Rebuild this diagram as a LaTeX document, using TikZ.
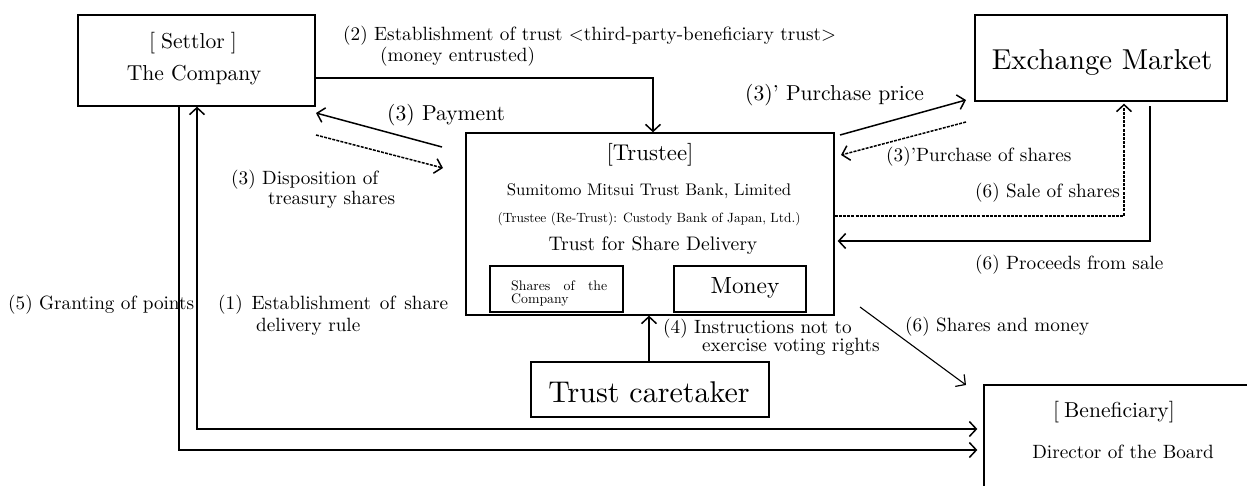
\documentclass[tikz,border=0pt]{standalone}
\usepackage{fontspec}
\setmainfont{lmroman10-regular}[Extension=.otf]
\usetikzlibrary{arrows.meta}
\newcommand\fsz[1]{\fontsize{#1pt}{#1pt}\selectfont}
\begin{document}
\begin{tikzpicture}[x=1pt,y=-1pt,
  box/.style={draw, line width=1.3pt, inner sep=0pt},
  txt/.style={inner sep=0pt, font=\fsz{19.2}},
  con/.style={line width=1.5pt},
  arr/.style={con, -{Straight Barb[length=7pt,width=15pt,line width=1.5pt]}},
  dsh/.style={dash pattern=on 3pt off 1.2pt}]
\useasboundingbox (0,0) rectangle (1247,485);
% boxes
\node[box, minimum width=237pt, minimum height=91pt] (settlor) at (196.5,60.5) {};
\node[box, minimum width=368pt, minimum height=182pt] (trustee) at (650,224) {};
\node[box, minimum width=252pt, minimum height=86pt] (market) at (1101,58) {};
\node[box, minimum width=238pt, minimum height=55pt] (caretaker) at (650,389.5) {};
\node[box, minimum width=133pt, minimum height=46pt] (sharesbox) at (556.5,289) {};
\node[box, minimum width=132pt, minimum height=46pt] (moneybox) at (740,289) {};
\begin{scope}
\clip (0,0) rectangle (1247,485);
\node[box, minimum width=316pt, minimum height=155pt] (benef) at (1142,462.5) {};
\end{scope}
% texts in boxes
\node[txt, font=\fsz{21.6}] (t1) at (193,43) {[\hspace{6pt}Settlor\hspace{6pt}]};
\node[txt, font=\fsz{21.6}] (t2) at (194,75) {The Company};
\node[txt, font=\fsz{22.8}] (t3) at (650,155) {[Trustee]};
\node[txt, font=\fsz{16.8}] (t4) at (649,191) {Sumitomo Mitsui Trust Bank, Limited};
\node[txt, font=\fsz{13.4}] (t5) at (649,219) {(Trustee (Re-Trust): Custody Bank of Japan, Ltd.)};
\node[txt, font=\fsz{19.6}] (t6) at (653,246) {Trust for Share Delivery};
\node[txt, font=\fsz{13.8}, anchor=west] (t7) at (511,286) {\makebox[96pt][s]{Shares of the}};
\node[txt, font=\fsz{13.8}, anchor=west] (t8) at (511,300) {Company};
\node[txt, font=\fsz{23.4}] (t9) at (745,288) {Money};
\node[txt, font=\fsz{28.8}] (t10) at (1102,62) {Exchange Market};
\node[txt, font=\fsz{30}] (t11) at (649,392) {Trust caretaker};
\node[txt, font=\fsz{21.6}] (t12) at (1114,412) {[\hspace{5pt}Beneficiary]};
\node[txt, font=\fsz{19.2}] (t13) at (1123,452) {Director of the Board};
% free end points
\coordinate (payS) at (442,147);
\coordinate (payE) at (316,113);
\coordinate (dispS) at (316,135);
\coordinate (dispE) at (443,168);
\coordinate (ppS) at (840,135);
\coordinate (ppE) at (966,100);
\coordinate (psS) at (966,122);
\coordinate (psE) at (841,155);
\coordinate (procS) at (1150,106);
\coordinate (smS) at (860,307);
\coordinate (smE) at (966,385);
\coordinate (c5) at (179,450);
\coordinate (c1) at (197,429);
% connectors
\draw[arr] ([yshift=-17.5pt]settlor.east) -| ([xshift=3pt]trustee.north);
\draw[arr] (payS) -- (payE);
\draw[arr, dsh] (dispS) -- (dispE);
\draw[arr] (ppS) -- (ppE);
\draw[arr, dsh] (psS) -- (psE);
\draw[arr, dsh] ([yshift=8pt]trustee.east) -| ([xshift=23pt,yshift=-2pt]market.south);
\draw[arr] (procS) |- ([xshift=3pt,yshift=-17pt]trustee.east);
\draw[arr] ([xshift=-1pt]caretaker.north) -- ([xshift=-1pt]trustee.south);
\draw[-{Straight Barb[length=7pt,width=15pt,line width=1.2pt]}, line width=1.1pt] (smS) -- (smE);
\draw[arr, shorten >=6pt] (settlor.south -| c5) -- (c5) -- (benef.west |- c5);
\draw[con, {Straight Barb[length=7pt,width=15pt,line width=1.5pt]}-{Straight Barb[length=7pt,width=15pt,line width=1.5pt]}, shorten >=6pt] (settlor.south -| c1) -- (c1) -- (benef.west |- c1);
% labels
\node[txt, anchor=west] (l2a) at (343,36) {(2) Establishment of trust <third-party-beneficiary trust>};
\node[txt, anchor=west] (l2b) at (380,57) {(money entrusted)};
\node[txt, anchor=west, font=\fsz{21.6}] (l3p) at (387,115) {(3) Payment};
\node[txt, anchor=west] (l3d) at (231,180) {(3) Disposition of};
\node[txt, anchor=west] (l3e) at (268,200) {treasury shares};
\node[txt, anchor=west, font=\fsz{21.6}] (l3pp) at (745,95) {(3)' Purchase price};
\node[txt, anchor=west] (l3ps) at (886,157) {(3)'Purchase of shares};
\node[txt, anchor=west] (l6s) at (975,193) {(6) Sale of shares};
\node[txt, anchor=west] (l6p) at (975,265) {(6) Proceeds from sale};
\node[txt, anchor=west] (l6m) at (905,327) {(6) Shares and money};
\node[txt, anchor=west] (l4a) at (663,329) {(4) Instructions not to};
\node[txt, anchor=west] (l4b) at (702,347) {exercise voting rights};
\node[txt, anchor=west] (l5) at (8,305) {(5) Granting of points};
\node[txt, anchor=west] (l1a) at (218,305) {\makebox[230pt][s]{(1) Establishment of share}};
\node[txt, anchor=west] (l1b) at (256,327) {delivery rule};
\end{tikzpicture}
\end{document}
